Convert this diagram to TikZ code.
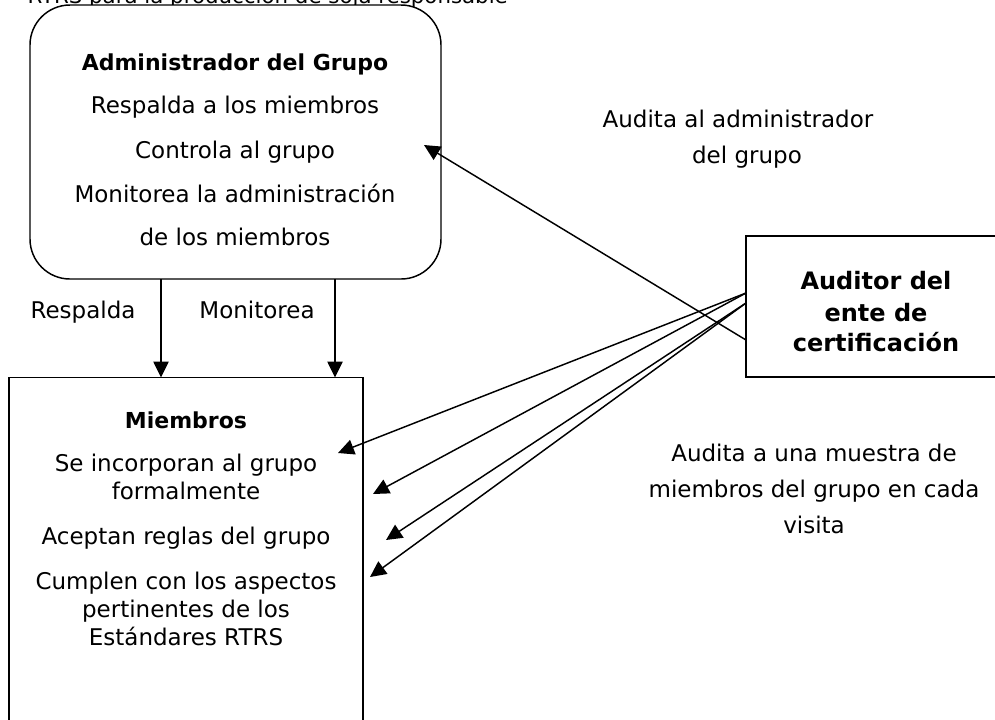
\documentclass[tikz,border=0pt]{standalone}
\usepackage{fontspec}
\setmainfont{DejaVu Sans}
\usetikzlibrary{arrows.meta}
\begin{document}
\begin{tikzpicture}[x=0.75pt,y=-0.75pt,
  line width=1.1pt,
  arr/.style={-{Triangle[length=12pt,width=11.5pt]}},
  txt/.style={font=\fontsize{17.25}{20}\selectfont, inner sep=0pt, anchor=base},
  btxt/.style={font=\fontsize{16.5}{20}\selectfont\bfseries, inner sep=0pt, anchor=base},
  atxt/.style={font=\fontsize{18}{20}\selectfont\bfseries, inner sep=0pt, anchor=base},
  box/.style={draw, fill=white, inner sep=0pt, outer sep=0pt}]
\useasboundingbox (0,0) rectangle (995,719);
% header (cut off at the top)
\node[font=\fontsize{16}{20}\selectfont, inner sep=0pt, anchor=base west] (hdr) at (27,3) {RTRS para la producción de soja responsable};
% boxes
\node[box, rounded corners=30pt, minimum width=308.25pt, minimum height=205.5pt] (admin) at (235.5,142) {};
\node[box, minimum width=265.5pt, minimum height=300pt] (members) at (186,577.5) {};
\node[box, minimum width=195pt, minimum height=105.75pt] (auditor) at (876,306.5) {};
% admin text
\node[btxt] (a1) at (235,70) {Administrador del Grupo};
\node[txt] (a2) at (235,113) {Respalda a los miembros};
\node[txt] (a3) at (235,158) {Controla al grupo};
\node[txt] (a4) at (235,202) {Monitorea la administración};
\node[txt] (a5) at (235,245) {de los miembros};
% members text
\node[btxt] (m1) at (186,428) {Miembros};
\node[txt] (m2) at (186,471) {Se incorporan al grupo};
\node[txt] (m3) at (186,499) {formalmente};
\node[txt] (m4) at (186,544) {Aceptan reglas del grupo};
\node[txt] (m5) at (186,589) {Cumplen con los aspectos};
\node[txt] (m6) at (186,617) {pertinentes de los};
\node[txt] (m7) at (186,645) {Estándares RTRS};
% auditor text
\node[atxt] (u1) at (876,289) {Auditor del};
\node[atxt] (u2) at (876,321) {ente de};
\node[atxt] (u3) at (876,351) {certificación};
% labels
\node[txt] (l1) at (83,318) {Respalda};
\node[txt] (l2) at (257,318) {Monitorea};
\node[txt] (l3) at (738,127) {Audita al administrador};
\node[txt] (l4) at (747,163) {del grupo};
\node[txt] (l5) at (814,461) {Audita a una muestra de};
\node[txt] (l6) at (814,497) {miembros del grupo en cada};
\node[txt] (l7) at (814,533) {visita};
% arrow ends
\coordinate (t0) at (424,145);
\coordinate (t1) at (338,453);
\coordinate (t2) at (373,494);
\coordinate (t3) at (386,540);
\coordinate (t4) at (370,577);
% connectors
\draw[arr] (admin.south -| 161,0) -- (members.north -| 161,0);
\draw[arr] (admin.south -| 335,0) -- (members.north -| 335,0);
\draw[arr] (auditor.west |- 0,340) -- (t0);
\draw[arr] (auditor.west |- 0,293) -- (t1);
\draw[arr] (auditor.west |- 0,293) -- (t2);
\draw[arr] (auditor.west |- 0,303) -- (t3);
\draw[arr] (auditor.west |- 0,303) -- (t4);
\end{tikzpicture}
\end{document}
